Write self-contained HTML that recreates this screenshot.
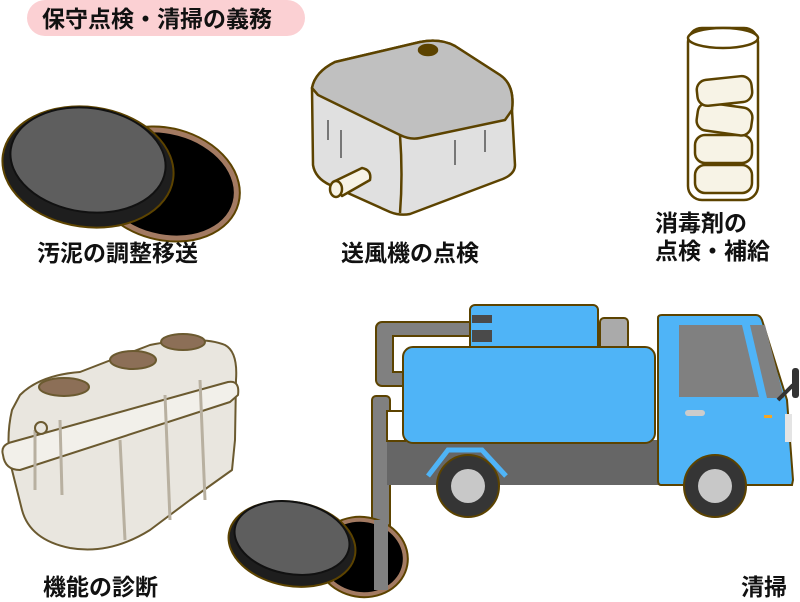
<!DOCTYPE html>
<html><head><meta charset="utf-8"><style>
body{margin:0;background:#fff;width:800px;height:602px;overflow:hidden}
svg{display:block}
text{font-family:"Liberation Sans","Noto Sans CJK JP",sans-serif;font-weight:bold;fill:#111;font-size:23px}
</style></head><body>
<svg width="800" height="602" viewBox="0 0 800 602">
<!-- title -->
<rect x="27" y="0" width="278" height="36" rx="18" fill="#fbd0d3"/>
<text x="42" y="27" font-size="23">保守点検・清掃の義務</text>

<!-- manhole 1 -->
<g stroke="#5c4300" stroke-width="2">
<ellipse cx="165" cy="184" rx="76" ry="56" transform="rotate(15 165 184)" fill="#a37a62"/>
<ellipse cx="165" cy="184" rx="70" ry="50" transform="rotate(15 165 184)" fill="#000" stroke="none"/>
<ellipse cx="88" cy="167" rx="86" ry="60" transform="rotate(8 88 167)" fill="#1e1e1e"/>
<ellipse cx="88" cy="160" rx="78" ry="52" transform="rotate(8 88 160)" fill="#5e5e5e" stroke="#111"/>
</g>

<!-- blower -->
<g stroke="#5c4300" stroke-width="2.5" stroke-linejoin="round">
<path d="M312 88 Q315 72 335 62 L420 42 Q440 38 455 46 L500 75 Q515 85 512 110 L515 165 Q515 175 500 180 L410 214 Q400 216 390 212 L330 185 Q315 178 313 165 Z" fill="#e0e0e0"/>
<path d="M312 88 Q315 72 335 62 L420 42 Q440 38 455 46 L500 75 Q515 85 512 110 L505 120 L420 138 Q410 140 400 135 L318 95 Z" fill="#c0c0c0"/>
<path d="M400 135 Q403 175 400 213" fill="none"/>
<ellipse cx="428" cy="50" rx="9" ry="5" fill="#5c4300"/>
<path d="M333 182 L362 168 Q372 170 370 180 L342 196 Z" fill="#f7f3e6"/>
<ellipse cx="336" cy="189" rx="6" ry="8" fill="#f7f3e6"/>
</g>
<g stroke="#777" stroke-width="2"><line x1="328" y1="120" x2="328" y2="140"/><line x1="341" y1="130" x2="341" y2="158"/><line x1="455" y1="140" x2="455" y2="165"/><line x1="485" y1="130" x2="485" y2="152"/></g>

<!-- cylinder -->
<g stroke="#5c4300" stroke-width="2.5" fill="#fff">
<rect x="688" y="28" width="70" height="172" rx="14"/>
<ellipse cx="723" cy="38" rx="35" ry="10"/>
<rect x="695" y="165" width="57" height="28" rx="10" fill="#f7f3e6"/>
<rect x="695" y="135" width="57" height="28" rx="10" fill="#f7f3e6"/>
<rect x="697" y="105" width="55" height="28" rx="10" fill="#f7f3e6" transform="rotate(8 724 119)"/>
<rect x="697" y="78" width="55" height="26" rx="10" fill="#f7f3e6" transform="rotate(-6 724 91)"/>
</g>

<!-- septic tank -->
<g stroke="#6b5a30" stroke-width="2" stroke-linejoin="round">
<path d="M20 395 Q40 375 80 372 L150 345 Q200 335 225 345 Q238 352 236 380 L235 440 L232 470 L190 500 L150 530 Q110 555 70 548 Q30 540 22 510 L12 470 Q5 440 12 410 Z" fill="#e9e6df"/>
<path d="M3 455 Q0 445 12 442 L228 382 Q240 380 238 395 L230 402 L20 470 Q5 470 3 455 Z" fill="#f2f0ea"/>
<path d="M35 430 L35 490 M60 420 L62 495 M120 440 L125 540 M165 395 L170 520 M200 380 L205 500" fill="none" stroke="#b8b0a0" stroke-width="3"/>
<ellipse cx="64" cy="387" rx="25" ry="9" fill="#8c6f57"/>
<ellipse cx="133" cy="360" rx="23" ry="9" fill="#8c6f57"/>
<ellipse cx="183" cy="342" rx="22" ry="8" fill="#8c6f57"/>
<circle cx="41" cy="428" r="6" fill="#e9e6df"/>
</g>

<!-- truck -->
<g stroke="#5c4300" stroke-width="2">
<rect x="376" y="322" width="100" height="64" rx="6" fill="#808080"/>
<rect x="393" y="336" width="78" height="36" fill="#fff"/>
<rect x="372" y="396" width="18" height="190" rx="4" fill="#808080"/>
<rect x="387" y="440" width="275" height="45" fill="#666" stroke="none"/>
<rect x="387" y="411" width="18" height="30" fill="#fff"/>
<rect x="600" y="318" width="28" height="32" rx="4" fill="#aaa"/>
<rect x="470" y="305" width="128" height="50" rx="5" fill="#4fb4f7"/>
<rect x="403" y="347" width="252" height="96" rx="10" fill="#4fb4f7"/>
<path d="M658 318 Q658 315 662 315 L756 315 Q760 315 762 320 L787 400 L793 480 L792 485 L661 485 Q658 485 658 480 Z" fill="#4fb4f7"/>
</g>
<rect x="472" y="315" width="20" height="8" fill="#4a4a4a"/>
<rect x="472" y="330" width="20" height="12" fill="#4a4a4a"/>
<path d="M679 325 L742 325 L759 397 L679 397 Z" fill="#808080"/>
<path d="M750 325 L765 325 L784 398 L767 398 Z" fill="#808080"/>
<rect x="685" y="410" width="20" height="6" rx="3" fill="#ccc"/>
<rect x="764" y="415" width="8" height="3" fill="#f5a623"/>
<rect x="785" y="414" width="7" height="28" fill="#e4e4e4"/>
<path d="M778 400 L793 385" stroke="#333" stroke-width="4"/>
<rect x="792" y="368" width="7" height="30" rx="3" fill="#333"/>
<path d="M428 476 L448 450 L482 450 L506 476" fill="none" stroke="#4fb4f7" stroke-width="5"/>
<g stroke="#5c4300" stroke-width="2">
<circle cx="468" cy="486" r="31" fill="#353535"/><circle cx="468" cy="486" r="17" fill="#c8c8c8" stroke="none"/>
<circle cx="715" cy="486" r="31" fill="#353535"/><circle cx="715" cy="486" r="17" fill="#c8c8c8" stroke="none"/>
</g>

<!-- manhole 2 -->
<g stroke="#5c4300" stroke-width="2">
<ellipse cx="362" cy="557" rx="46" ry="40" transform="rotate(10 362 557)" fill="#a37a62"/>
<ellipse cx="362" cy="557" rx="41" ry="35" transform="rotate(10 362 557)" fill="#000" stroke="none"/>
<rect x="374" y="520" width="14" height="70" fill="#808080" stroke="none"/>
<ellipse cx="292" cy="544" rx="64" ry="42" transform="rotate(10 292 544)" fill="#1e1e1e"/>
<ellipse cx="292" cy="538" rx="58" ry="36" transform="rotate(10 292 538)" fill="#5e5e5e" stroke="#111"/>
</g>

<!-- labels -->
<text x="37" y="261">汚泥の調整移送</text>
<text x="341" y="261">送風機の点検</text>
<text x="655" y="231">消毒剤の</text>
<text x="655" y="259">点検・補給</text>
<text x="43" y="595">機能の診断</text>
<text x="741" y="595">清掃</text>
</svg>
</body></html>
